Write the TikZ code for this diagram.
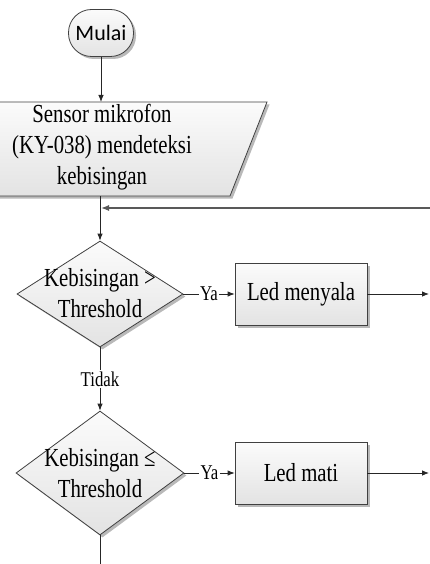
\documentclass[tikz,border=0pt]{standalone}
\usepackage{fontspec}
\setmainfont{Liberation Serif}[FakeStretch=0.8]
\newfontfamily\mulaifont{Carlito}
\usetikzlibrary{arrows.meta, positioning, shapes.geometric, shadows}

\begin{document}
\begin{tikzpicture}[x=1pt, y=-1pt,
  shapebase/.style={
    draw=black!75, line width=0.8pt, top color=gray!3, bottom color=gray!22,
    drop shadow={shadow xshift=2.5pt, shadow yshift=-2.5pt, fill=black!55},
    inner sep=0pt
  },
  termbox/.style={
    shapebase, rectangle, rounded corners=23pt,
    minimum width=65pt, minimum height=47pt,
    font=\mulaifont\fontsize{22}{26}\selectfont
  },
  decisionbox/.style={
    shapebase, diamond, minimum width=166pt, minimum height=106pt
  },
  processbox/.style={
    shapebase, rectangle, minimum width=132pt, minimum height=62pt,
    font=\fontsize{26}{31}\selectfont
  },
  boxtext/.style={font=\fontsize{26}{31}\selectfont, align=center, inner sep=0pt},
  flowlabel/.style={font=\fontsize{21}{24}\selectfont, fill=white, inner sep=1.5pt},
  flowline/.style={draw=black!85, line width=0.8pt},
  flowarrow/.style={flowline, -{Latex[length=7pt, width=5.5pt]}},
  looparrow/.style={draw=black!65, line width=1.3pt, -{Latex[length=8pt, width=6pt]}}
]
\clip (0,0) rectangle (430,564);
\useasboundingbox (0,0) rectangle (430,564);

% ---- start and input ----
\node[termbox] (start) at (101,33) {Mulai};

% input parallelogram (left part runs off the page)
\path[shapebase] (-65,196) -- (-28,102) -- (267,102) -- (230,196) -- cycle;
\coordinate (sensorTop) at (101,102);
\coordinate (sensorBot) at (100,196);
\node[boxtext] (sensor) at (102,147)
  {Sensor mikrofon\\(KY-038) mendeteksi\\kebisingan};

% ---- first decision ----
\node[decisionbox] (d1) at (100,294) {};
\node[boxtext] (d1Txt) at (100,293) {Kebisingan >\\Threshold};
\node[processbox] (led1) at (301,294) {Led menyala};

% ---- second decision ----
\node[decisionbox, minimum width=168pt, minimum height=124pt] (d2) at (100,473) {};
\node[boxtext] (d2Txt) at (100,473) {Kebisingan ≤\\Threshold};
\node[processbox] (led2) at (301,473) {Led mati};

% free ends at the picture border
\coordinate (loopR) at (431,208);
\coordinate (loopJ) at (101,208);
\coordinate (out1) at (429,294);
\coordinate (out2) at (429,473);
\coordinate (endB) at (100,570);

% ---- connectors ----
\draw[flowarrow] (start) -- (sensorTop);
\draw[flowarrow] (sensorBot) -- (d1.north);
\draw[looparrow] (loopR) -- (loopJ);

\draw[flowarrow] (d1.east) -- node[flowlabel] {Ya} (led1.west);
\draw[flowarrow] (led1.east) -- (out1);
\draw[flowarrow] (d1.south) -- node[flowlabel] {Tidak} (d2.north);

\draw[flowarrow] (d2.east) -- node[flowlabel] {Ya} (led2.west);
\draw[flowarrow] (led2.east) -- (out2);
\draw[flowline] (d2.south) -- (endB);

\end{tikzpicture}
\end{document}
